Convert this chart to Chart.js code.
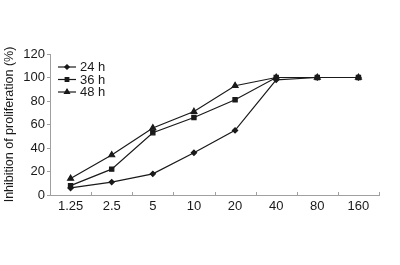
<!DOCTYPE html>
<html>
<head>
<meta charset="utf-8">
<script src="https://cdn.jsdelivr.net/npm/chart.js@4"></script>
<style>
  html, body { margin: 0; padding: 0; background: #fff; }
  #wrap { width: 400px; height: 265px; }
</style>
</head>
<body>
<div id="wrap"><canvas id="chart" width="400" height="265"></canvas></div>
<script>
// concentrations (x categories)
const doses = ["1.25", "2.5", "5", "10", "20", "40", "80", "160"];
// inhibition values (%)
const h24 = [6, 11, 18, 36, 55, 98, 100, 100];
const h36 = [8, 22, 53, 66, 81, 100, 100, 100];
const h48 = [14, 34, 57, 71, 93, 100, 100, 100];
const yTicks = [0, 20, 40, 60, 80, 100, 120];

const axisCol = "#a0a0a0";
const ink = "#1a1a1a";
const fontFam = "'Liberation Sans', Arial, sans-serif";

function series(label, data, style, r) {
  return {
    label: label,
    data: data,
    borderColor: ink,
    backgroundColor: ink,
    borderWidth: 1.2,
    pointStyle: style,
    pointRadius: r,
    pointHoverRadius: r,
    tension: 0,
  };
}

// little tick marks pointing up from the x axis, between categories
const innerTicks = {
  id: "innerTicks",
  afterDraw(chart) {
    const ctx = chart.ctx;
    const x = chart.scales.x;
    const bottom = chart.chartArea.bottom;
    const step = (x.right - x.left) / doses.length;
    ctx.save();
    ctx.strokeStyle = axisCol;
    ctx.lineWidth = 1;
    for (let i = 1; i <= doses.length; i++) {
      const px = Math.round(x.left + step * i) + 0.5;
      ctx.beginPath();
      ctx.moveTo(px, bottom);
      ctx.lineTo(px, bottom - 3);
      ctx.stroke();
    }
    ctx.restore();
  },
};

// legend in the top-left corner with line + marker
const cornerLegend = {
  id: "cornerLegend",
  afterDraw(chart) {
    const ctx = chart.ctx;
    ctx.save();
    ctx.font = "13px " + fontFam;
    ctx.textBaseline = "middle";
    chart.data.datasets.forEach((ds, i) => {
      const y = 67 + i * 12.5;
      ctx.strokeStyle = ink;
      ctx.lineWidth = 1.2;
      ctx.beginPath();
      ctx.moveTo(58, y);
      ctx.lineTo(76, y);
      ctx.stroke();
      Chart.helpers.drawPoint(ctx, {
        pointStyle: ds.pointStyle,
        radius: ds.pointRadius * 0.85,
        borderWidth: 1,
      }, 67, y);
      ctx.fillStyle = ink;
      ctx.fill();
      ctx.fillText(ds.label, 80, y + 0.5);
    });
    ctx.restore();
  },
};

new Chart(document.getElementById("chart"), {
  type: "line",
  data: {
    labels: doses,
    datasets: [
      series("24 h", h24, "rectRot", 2.6),
      series("36 h", h36, "rect", 3),
      series("48 h", h48, "triangle", 3.4),
    ],
  },
  plugins: [innerTicks, cornerLegend],
  options: {
    responsive: false,
    animation: false,
    layout: { padding: { top: 54, right: 21, left: 0, bottom: 0 } },
    plugins: {
      legend: { display: false },
      tooltip: { enabled: false },
    },
    scales: {
      x: {
        type: "category",
        offset: true,
        border: { color: axisCol, width: 1 },
        grid: { display: true, drawOnChartArea: false, drawTicks: false, tickLength: 0 },
        ticks: {
          color: ink,
          font: { family: fontFam, size: 13 },
          padding: 4,
          maxRotation: 0,
        },
        afterFit(scale) { scale.height = 70; },
      },
      y: {
        min: 0,
        max: 120,
        border: { color: axisCol, width: 1 },
        grid: { drawOnChartArea: false, drawTicks: true, tickLength: 3, color: axisCol },
        afterBuildTicks(scale) { scale.ticks = yTicks.map(v => ({ value: v })); },
        ticks: {
          color: ink,
          font: { family: fontFam, size: 13 },
          padding: 2,
        },
        title: {
          display: true,
          text: "Inhibition of proliferation (%)",
          color: ink,
          font: { family: fontFam, size: 12.5 },
          padding: { top: 2, bottom: 0 },
        },
        afterFit(scale) { scale.width = 50; },
      },
    },
  },
});
</script>
</body>
</html>
